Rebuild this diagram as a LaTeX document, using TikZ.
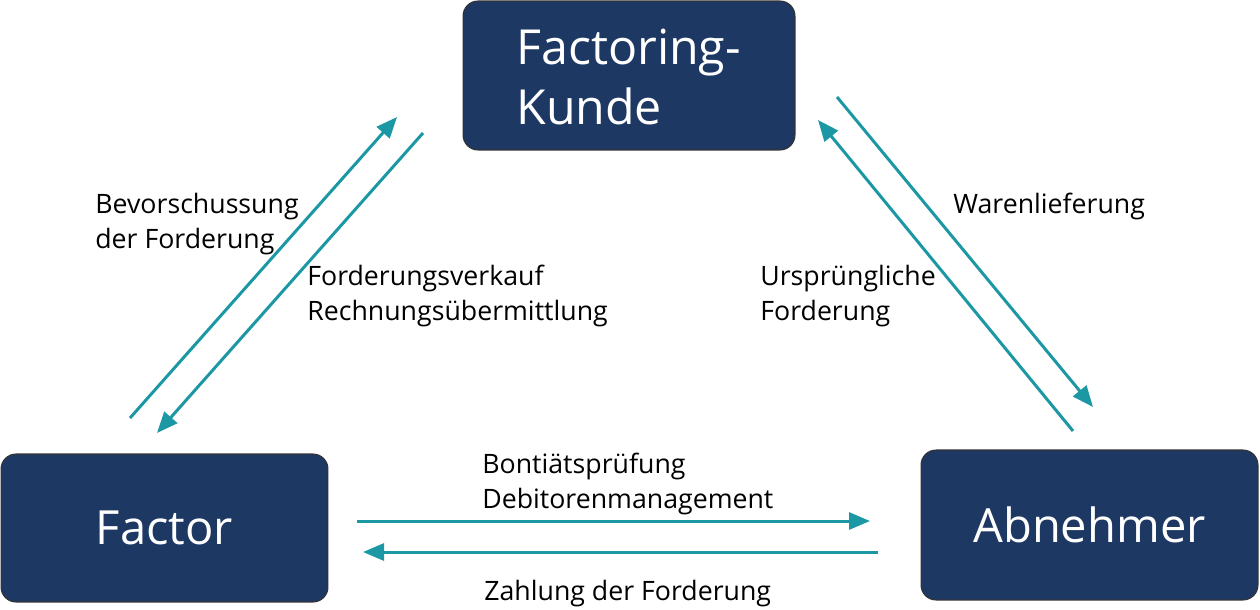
\documentclass[tikz,border=0pt]{standalone}
\usepackage{fontspec}
\setmainfont{Open Sans}
\usetikzlibrary{arrows.meta}
\definecolor{boxblue}{HTML}{1E3864}
\definecolor{arrowteal}{HTML}{1C97A4}

\begin{document}
\begin{tikzpicture}[x=0.02cm,y=-0.02cm,
    party/.style={draw=black!80,fill=boxblue,text=white,rounded corners=0.3cm,
      font=\fontsize{26.8}{34}\selectfont,line width=0.6pt},
    flow/.style={draw=arrowteal,line width=1.7pt,-{Triangle[length=0.42cm,width=0.34cm]}},
    caption/.style={anchor=west,align=left,inner sep=0pt,
      font=\fontsize{15.2}{20}\selectfont}]
  \useasboundingbox (0,0) rectangle (1260,609);

  %boxes
  \node[party,minimum width=6.64cm,minimum height=2.98cm] (kunde) at (629,75.5) {};
  \node[anchor=west,align=left,inner sep=0pt,text=white,
    font=\fontsize{27.5}{34}\selectfont] (kundetext) at (516,77) {Factoring-\\Kunde};
  \node[party,minimum width=6.54cm,minimum height=2.96cm] (factor) at (164.5,528) {Factor};
  \node[party,minimum width=6.74cm,minimum height=3cm] (abnehmer) at (1089.5,525) {Abnehmer};

  %left
  \coordinate (l1a) at (130,418);
  \coordinate (l1b) at (397,117);
  \coordinate (l2a) at (423,133);
  \coordinate (l2b) at (157,433);
  \draw[flow] (l1a) -- (l1b);
  \draw[flow] (l2a) -- (l2b);
  \node[caption] (vorschuss) at (95,224) {Bevorschussung\\der Forderung};
  \node[caption] (verkauf) at (307,296) {Forderungsverkauf\\Rechnungsübermittlung};

  %right
  \coordinate (r1a) at (1073,431);
  \coordinate (r1b) at (818,120);
  \coordinate (r2a) at (837,97);
  \coordinate (r2b) at (1093,407);
  \draw[flow] (r1a) -- (r1b);
  \draw[flow] (r2a) -- (r2b);
  \node[caption] (ursprung) at (760,296) {Ursprüngliche\\Forderung};
  \node[caption] (ware) at (953,206) {Warenlieferung};

  %bottom
  \coordinate (b1a) at (357,521);
  \coordinate (b1b) at (870,521);
  \coordinate (b2a) at (878,552);
  \coordinate (b2b) at (363,552);
  \draw[flow] (b1a) -- (b1b);
  \draw[flow] (b2a) -- (b2b);
  \node[caption] (bonitaet) at (482,484) {Bontiätsprüfung\\Debitorenmanagement};
  \node[caption] (zahlung) at (484,594) {Zahlung der Forderung};
\end{tikzpicture}
\end{document}
